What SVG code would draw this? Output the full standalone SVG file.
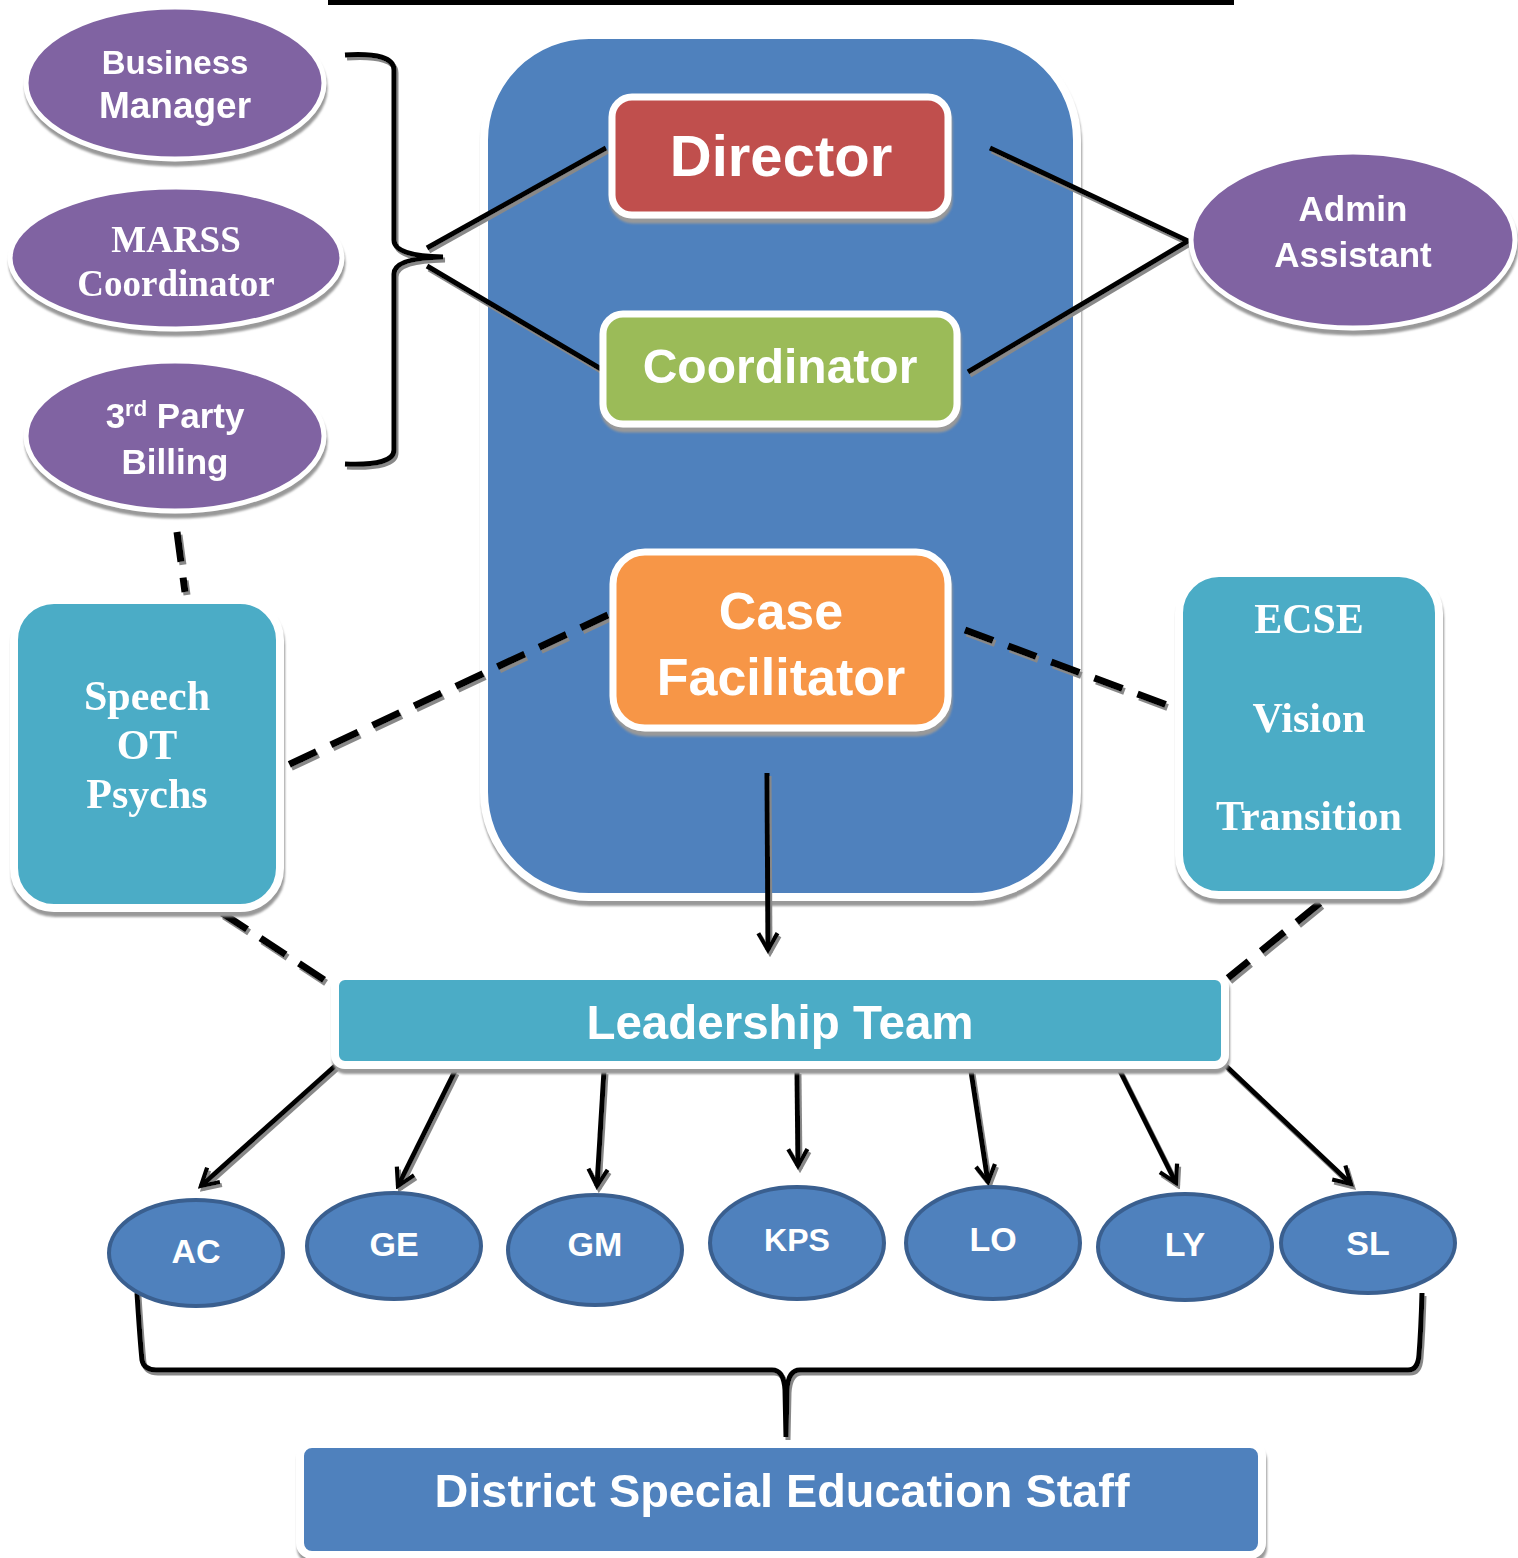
<svg xmlns="http://www.w3.org/2000/svg" width="1518" height="1558" viewBox="0 0 1518 1558">
<style>
.sans{font-family:"Liberation Sans",Arial,sans-serif;font-weight:bold;fill:#fff;text-anchor:middle}
.serif{font-family:"Liberation Serif","Times New Roman",serif;font-weight:bold;fill:#fff;text-anchor:middle}
.purple{fill:#8064A2;stroke:#fff;stroke-width:5}
.teal{fill:#4BACC6;stroke:#fff;stroke-width:8}
.blue{fill:#4F81BD;stroke:#fff;stroke-width:8}
.oval{fill:#4F81BD;stroke:#3A5F8F;stroke-width:4}
.line{fill:none;stroke:#000;stroke-width:5}
.dash{fill:none;stroke:#000;stroke-width:7;stroke-dasharray:30 16}
.arrow{fill:none;stroke:#000;stroke-width:5;marker-end:url(#arr)}
</style>
<defs>
<filter id="sh" x="-10%" y="-10%" width="120%" height="130%">
<feDropShadow dx="1" dy="5" stdDeviation="1" flood-color="#999" flood-opacity="1"/>
</filter>
<filter id="lsh" x="-10%" y="-10%" width="120%" height="120%">
<feDropShadow dx="2" dy="3" stdDeviation="0.6" flood-color="#888" flood-opacity="1"/>
</filter>
<marker id="arr" viewBox="0 0 20 20" refX="17" refY="10" markerWidth="24" markerHeight="24" markerUnits="userSpaceOnUse" orient="auto">
<path d="M3,2 L17,10 L3,18" fill="none" stroke="#000" stroke-width="3.5"/>
</marker>
</defs>
<rect x="328" y="0" width="906" height="5" fill="#000"/>

<g id="central-unit" filter="url(#sh)">
<rect x="484" y="35" width="593" height="862" rx="105" class="blue"/>
</g>

<g id="connectors" filter="url(#lsh)">
<path class="line" d="M345,55 Q394,52 394,70 L394,240 Q394,256 443,257 Q394,258 394,274 L394,450 Q394,466 345,464"/>
<path class="line" d="M427,248 L606,148"/>
<path class="line" d="M427,266 L606,372"/>
<path class="line" d="M990,148 L1188,241 L968,372"/>
<path class="dash" d="M177,532 L185,592"/>
<path class="dash" d="M608,615 L288,765"/>
<path class="dash" d="M965,630 L1175,708"/>
<path class="dash" d="M222,913 L332,985"/>
<path class="dash" d="M1320,903 L1228,978"/>
<path class="arrow" d="M767,773 L768,950"/>
<path class="arrow" d="M335,1066 L201,1186"/>
<path class="arrow" d="M455,1071 L398,1186"/>
<path class="arrow" d="M604,1071 L597,1186"/>
<path class="arrow" d="M797,1071 L798,1166"/>
<path class="arrow" d="M971,1071 L988,1182"/>
<path class="arrow" d="M1120,1071 L1176,1183"/>
<path class="arrow" d="M1226,1066 L1351,1184"/>
<path class="line" d="M137,1293 Q140,1340 142,1360 Q144,1370 156,1370 L772,1370 Q784,1370 785,1390 L786,1437 L787,1390 Q788,1370 800,1370 L1408,1370 Q1418,1370 1419,1355 Q1421,1330 1422,1293"/>
</g>

<g id="business-manager" filter="url(#sh)">
<ellipse cx="175" cy="83" rx="149" ry="76" class="purple"/>
<text class="sans" x="175" y="74" font-size="33">Business</text>
<text class="sans" x="175" y="118" font-size="37">Manager</text>
</g>
<g id="marss-coordinator" filter="url(#sh)">
<ellipse cx="176" cy="258" rx="166" ry="71" class="purple"/>
<text class="serif" x="176" y="252" font-size="37">MARSS</text>
<text class="serif" x="176" y="296" font-size="37">Coordinator</text>
</g>
<g id="third-party-billing" filter="url(#sh)">
<ellipse cx="175" cy="436" rx="149" ry="75" class="purple"/>
<text class="sans" x="175" y="428" font-size="35">3<tspan font-size="22" dy="-12">rd</tspan><tspan dy="12"> Party</tspan></text>
<text class="sans" x="175" y="474" font-size="35">Billing</text>
</g>
<g id="admin-assistant" filter="url(#sh)">
<ellipse cx="1353" cy="240" rx="162" ry="88" class="purple"/>
<text class="sans" x="1353" y="221" font-size="35">Admin</text>
<text class="sans" x="1353" y="267" font-size="35">Assistant</text>
</g>

<g id="director" filter="url(#sh)">
<rect x="612" y="97" width="336" height="118" rx="20" fill="#C0504D" stroke="#fff" stroke-width="7"/>
<text class="sans" x="781" y="176" font-size="58">Director</text>
</g>
<g id="coordinator" filter="url(#sh)">
<rect x="603" y="314" width="354" height="110" rx="20" fill="#9BBB59" stroke="#fff" stroke-width="7"/>
<text class="sans" x="780" y="383" font-size="48">Coordinator</text>
</g>
<g id="case-facilitator" filter="url(#sh)">
<rect x="613" y="552" width="335" height="176" rx="32" fill="#F79646" stroke="#fff" stroke-width="7"/>
<text class="sans" x="781" y="629" font-size="52">Case</text>
<text class="sans" x="781" y="695" font-size="52">Facilitator</text>
</g>

<g id="speech-ot-psychs" filter="url(#sh)">
<rect x="14" y="600" width="266" height="308" rx="40" class="teal"/>
<text class="serif" x="147" y="710" font-size="42">Speech</text>
<text class="serif" x="147" y="759" font-size="42">OT</text>
<text class="serif" x="147" y="808" font-size="42">Psychs</text>
</g>
<g id="ecse-vision-transition" filter="url(#sh)">
<rect x="1179" y="573" width="260" height="322" rx="40" class="teal"/>
<text class="serif" x="1309" y="633" font-size="42">ECSE</text>
<text class="serif" x="1309" y="732" font-size="42">Vision</text>
<text class="serif" x="1309" y="830" font-size="42">Transition</text>
</g>

<g id="leadership-team" filter="url(#sh)">
<rect x="335" y="976" width="890" height="89" rx="10" class="teal"/>
<text class="sans" x="780" y="1039" font-size="47.5">Leadership Team</text>
</g>

<g id="ac"><ellipse cx="196" cy="1253" rx="87" ry="53" class="oval"/><text class="sans" x="196" y="1263" font-size="34">AC</text></g>
<g id="ge"><ellipse cx="394" cy="1246" rx="87" ry="53" class="oval"/><text class="sans" x="394" y="1256" font-size="34">GE</text></g>
<g id="gm"><ellipse cx="595" cy="1250" rx="87" ry="55" class="oval"/><text class="sans" x="595" y="1256" font-size="34">GM</text></g>
<g id="kps"><ellipse cx="797" cy="1243" rx="87" ry="56" class="oval"/><text class="sans" x="797" y="1251" font-size="32">KPS</text></g>
<g id="lo"><ellipse cx="993" cy="1243" rx="87" ry="56" class="oval"/><text class="sans" x="993" y="1251" font-size="34">LO</text></g>
<g id="ly"><ellipse cx="1185" cy="1247" rx="87" ry="53" class="oval"/><text class="sans" x="1185" y="1256" font-size="34">LY</text></g>
<g id="sl"><ellipse cx="1368" cy="1243" rx="87" ry="50" class="oval"/><text class="sans" x="1368" y="1255" font-size="34">SL</text></g>

<g id="district-staff" filter="url(#sh)">
<rect x="300" y="1444" width="962" height="111" rx="12" class="blue"/>
<text class="sans" x="782" y="1507" font-size="46" textLength="695" lengthAdjust="spacingAndGlyphs">District Special Education Staff</text>
</g>
</svg>
